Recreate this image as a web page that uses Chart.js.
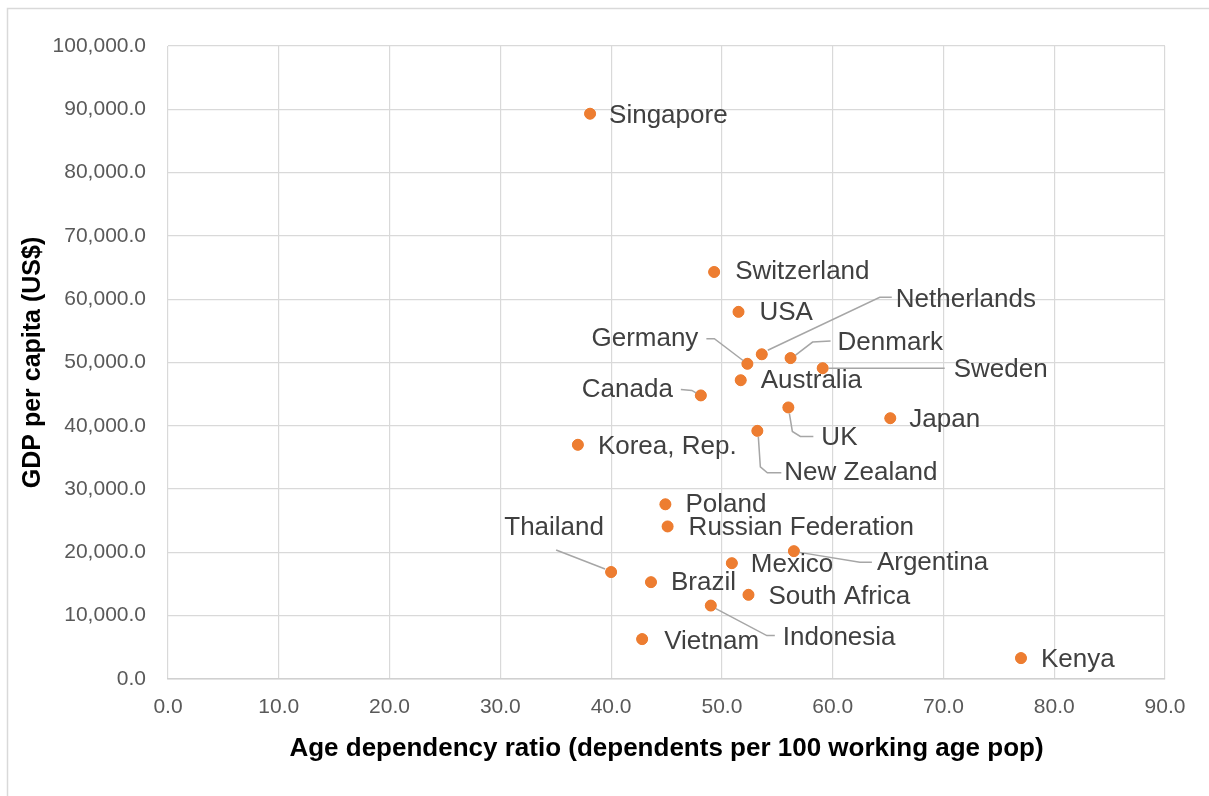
<!DOCTYPE html>
<html>
<head>
<meta charset="utf-8">
<script src="https://cdn.jsdelivr.net/npm/chart.js@4"></script>
<style>
  html, body { margin: 0; padding: 0; background: #fff; }
  #wrap { width: 1209px; height: 796px; position: relative; }
</style>
</head>
<body>
<div id="wrap"><canvas id="gdpChart"></canvas></div>
<script>
const countries = ['Singapore', 'Switzerland', 'USA', 'Netherlands', 'Germany', 'Denmark', 'Sweden',
  'Australia', 'Canada', 'UK', 'Japan', 'New Zealand', 'Korea, Rep.', 'Poland', 'Russian Federation',
  'Thailand', 'Argentina', 'Mexico', 'Brazil', 'South Africa', 'Indonesia', 'Vietnam', 'Kenya'];
const ageDependency = [38.1, 49.3, 51.5, 53.6, 52.3, 56.2, 59.1,
  51.7, 48.1, 56.0, 65.2, 53.2, 37.0, 44.9, 45.1,
  40.0, 56.5, 50.9, 43.6, 52.4, 49.0, 42.8, 77.0];
const gdpPerCapita = [89300, 64300, 58000, 51300, 49800, 50700, 49100,
  47200, 44800, 42900, 41200, 39200, 37000, 27600, 24100,
  16900, 20200, 18300, 15300, 13300, 11600, 6300, 3300];
const xTicks = [0, 10, 20, 30, 40, 50, 60, 70, 80, 90];
const yTicks = [0, 10000, 20000, 30000, 40000, 50000, 60000, 70000, 80000, 90000, 100000];

// where each label sits relative to its dot (pixels), plus leader line path
const labelPlacement = {
  'Singapore': { dx: 19, dy: 2 },
  'Switzerland': { dx: 21, dy: 0 },
  'USA': { dx: 21, dy: 1 },
  'Netherlands': { dx: 134, dy: -54, leader: [[6, -4], [118, -57], [130, -57]] },
  'Germany': { dx: -49, dy: -25, align: 'right', leader: [[-41, -25], [-33, -25], [-4, -3]] },
  'Denmark': { dx: 47, dy: -15, leader: [[5, -3], [22, -16], [40, -17]] },
  'Sweden': { dx: 131, dy: 2, leader: [[6, 0], [122, 0]] },
  'Australia': { dx: 20, dy: 1 },
  'Canada': { dx: -28, dy: -6, align: 'right', leader: [[-20, -6], [-9, -5], [-4, -2]] },
  'UK': { dx: 33, dy: 30, leader: [[1, 6], [4, 24], [12, 29], [25, 29]] },
  'Japan': { dx: 19, dy: 2 },
  'New Zealand': { dx: 27, dy: 42, leader: [[1, 6], [3, 36], [10, 42], [24, 42]] },
  'Korea, Rep.': { dx: 20, dy: 2 },
  'Poland': { dx: 20, dy: 1 },
  'Russian Federation': { dx: 21, dy: 1 },
  'Thailand': { dx: -57, dy: -44, align: 'center', leader: [[-55, -22], [-6, -3]] },
  'Argentina': { dx: 83, dy: 12, leader: [[4, 1], [66, 11], [78, 11]] },
  'Mexico': { dx: 19, dy: 2 },
  'Brazil': { dx: 20, dy: 1 },
  'South Africa': { dx: 20, dy: 2 },
  'Indonesia': { dx: 72, dy: 32, leader: [[5, 3], [56, 30], [64, 30]] },
  'Vietnam': { dx: 22, dy: 3 },
  'Kenya': { dx: 20, dy: 2 }
};

const points = countries.map((c, i) => ({ x: ageDependency[i], y: gdpPerCapita[i] }));

function fmt(v) {
  return v.toLocaleString('en-US', { minimumFractionDigits: 1, maximumFractionDigits: 1 });
}

const frame = {
  id: 'frame',
  beforeDraw(chart) {
    const ctx = chart.ctx;
    ctx.save();
    ctx.fillStyle = '#ffffff';
    ctx.fillRect(0, 0, chart.width, chart.height);
    ctx.strokeStyle = '#d9d9d9';
    ctx.lineWidth = 1.5;
    ctx.strokeRect(7.5, 8.5, chart.width + 10, chart.height + 10);
    ctx.restore();
  }
};

const pointLabels = {
  id: 'pointLabels',
  afterDatasetsDraw(chart) {
    const ctx = chart.ctx;
    const meta = chart.getDatasetMeta(0);
    ctx.save();
    meta.data.forEach((el, i) => {
      const name = countries[i];
      const p = labelPlacement[name] || { dx: 20, dy: 0 };
      if (p.leader) {
        ctx.strokeStyle = '#a6a6a6';
        ctx.lineWidth = 1.5;
        ctx.beginPath();
        p.leader.forEach((pt, k) => {
          if (k === 0) ctx.moveTo(el.x + pt[0], el.y + pt[1]);
          else ctx.lineTo(el.x + pt[0], el.y + pt[1]);
        });
        ctx.stroke();
      }
    });
    // redraw dots over the leader lines
    meta.data.forEach(el => {
      ctx.fillStyle = '#ED7D31';
      ctx.beginPath();
      ctx.arc(el.x, el.y, 5.5, 0, Math.PI * 2);
      ctx.fill();
    });
    ctx.font = '26px "Liberation Sans", Arial, sans-serif';
    ctx.fillStyle = '#404040';
    ctx.textBaseline = 'middle';
    meta.data.forEach((el, i) => {
      const name = countries[i];
      const p = labelPlacement[name] || { dx: 20, dy: 0 };
      ctx.textAlign = p.align || 'left';
      ctx.fillText(name, el.x + p.dx, el.y + p.dy);
    });
    ctx.restore();
  }
};

new Chart(document.getElementById('gdpChart'), {
  type: 'scatter',
  data: {
    datasets: [{
      label: 'GDP per capita',
      data: points,
      backgroundColor: '#ED7D31',
      borderColor: '#ED7D31',
      pointRadius: 5.5,
      pointHoverRadius: 5.5
    }]
  },
  options: {
    responsive: true,
    maintainAspectRatio: false,
    animation: false,
    events: [],
    layout: { padding: { top: 46, right: 44, left: 0, bottom: 0 } },
    plugins: {
      legend: { display: false },
      tooltip: { enabled: false }
    },
    scales: {
      x: {
        type: 'linear',
        min: 0,
        max: 90,
        afterBuildTicks: scale => { scale.ticks = xTicks.map(v => ({ value: v })); },
        afterFit: scale => { scale.height = 117; },
        grid: { color: '#d9d9d9', lineWidth: 1.2, drawTicks: false },
        border: { color: '#d0d0d0', width: 1.5 },
        ticks: {
          padding: 16,
          color: '#595959',
          font: { family: '"Liberation Sans", Arial, sans-serif', size: 21 },
          maxRotation: 0,
          callback: v => fmt(v)
        },
        title: {
          display: true,
          text: 'Age dependency ratio (dependents per 100 working age pop)',
          color: '#000000',
          font: { family: '"Liberation Sans", Arial, sans-serif', size: 26, weight: 'bold' },
          padding: { top: 0, bottom: 32 }
        }
      },
      y: {
        type: 'linear',
        min: 0,
        max: 100000,
        afterBuildTicks: scale => { scale.ticks = yTicks.map(v => ({ value: v })); },
        afterFit: scale => { scale.width = 168; },
        grid: { color: '#d9d9d9', lineWidth: 1.2, drawTicks: false },
        border: { display: false },
        ticks: {
          padding: 22,
          color: '#595959',
          font: { family: '"Liberation Sans", Arial, sans-serif', size: 21 },
          callback: v => fmt(v)
        },
        title: {
          display: true,
          text: 'GDP per capita (US$)',
          color: '#000000',
          font: { family: '"Liberation Sans", Arial, sans-serif', size: 25, weight: 'bold' },
          padding: { top: 18, bottom: 0 }
        }
      }
    }
  },
  plugins: [frame, pointLabels]
});
</script>
</body>
</html>
